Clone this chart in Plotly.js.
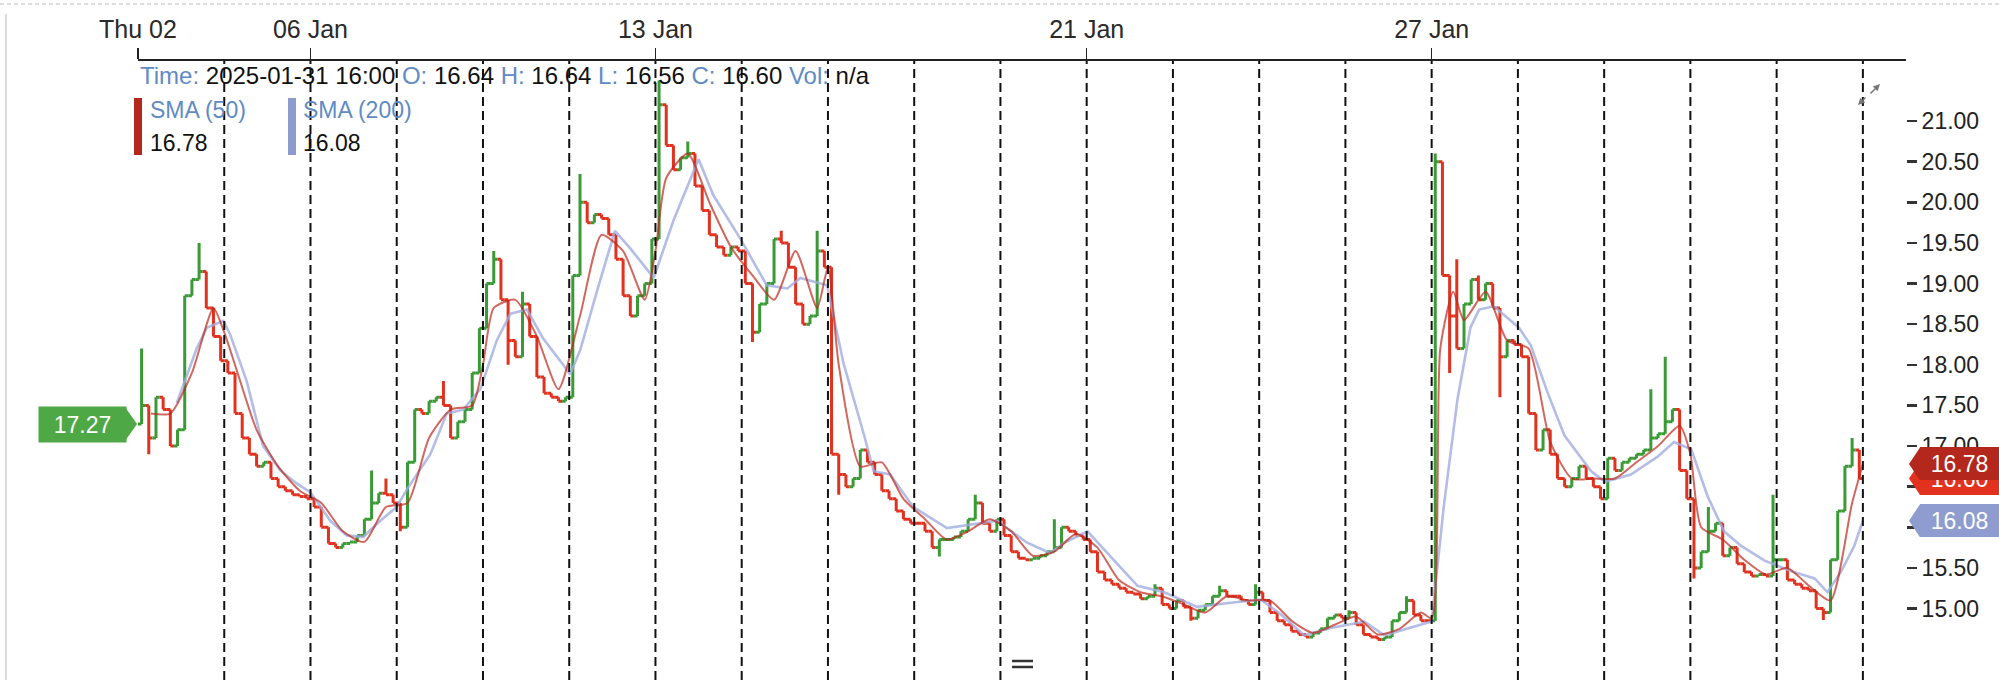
<!DOCTYPE html>
<html>
<head>
<meta charset="utf-8">
<script src="https://cdn.plot.ly/plotly-3.0.1.min.js"></script>
<style>
  html, body { margin: 0; padding: 0; background: #fff; }
  #chart { width: 1999px; height: 680px; }
</style>
</head>
<body>
<div id="chart"></div>
<script>
// trading days shown on the chart (Jan 2025, 09 and 20 Jan closed)
const tradingDays = ['Thu 02','Fri 03','Mon 06','Tue 07','Wed 08','Fri 10','Mon 13','Tue 14','Wed 15','Thu 16',
                     'Fri 17','Tue 21','Wed 22','Thu 23','Fri 24','Mon 27','Tue 28','Wed 29','Thu 30','Fri 31'];
const tickDays = [0, 2, 6, 11, 15];
const tickLabels = ['Thu 02', '06 Jan', '13 Jan', '21 Jan', '27 Jan'];
const priceTicks = [15, 15.5, 16, 16.5, 17, 17.5, 18, 18.5, 19, 19.5, 20, 20.5, 21];

// closes, 12 bars per trading day
const firstOpen = 17.27;
const closesByDay = [
  [17.5, 17.1, 17.6, 17.45, 17.0, 17.2, 18.85, 19.05, 19.15, 18.7, 18.35, 18.05],
  [17.9, 17.4, 17.1, 16.9, 16.75, 16.8, 16.6, 16.5, 16.45, 16.4, 16.38, 16.35],
  [16.25, 16.0, 15.8, 15.75, 15.8, 15.82, 15.9, 16.1, 16.3, 16.42, 16.4, 16.3],
  [16.0, 16.8, 17.45, 17.4, 17.55, 17.6, 17.5, 17.1, 17.3, 17.45, 17.9, 18.45],
  [19.0, 19.3, 18.8, 18.3, 18.1, 18.75, 18.35, 17.85, 17.65, 17.6, 17.55, 17.6],
  [19.1, 20.0, 19.75, 19.85, 19.8, 19.6, 19.3, 18.85, 18.6, 18.85, 19.0, 19.55],
  [21.2, 20.7, 20.4, 20.55, 20.6, 20.2, 19.9, 19.6, 19.45, 19.35, 19.45, 19.4],
  [19.0, 18.4, 18.75, 19.0, 19.55, 19.5, 19.2, 18.75, 18.5, 18.6, 19.4, 19.2],
  [16.9, 16.65, 16.5, 16.6, 16.95, 16.8, 16.65, 16.45, 16.35, 16.2, 16.1, 16.05],
  [16.05, 15.95, 15.75, 15.85, 15.85, 15.88, 15.95, 16.1, 16.3, 16.05, 15.95, 16.1],
  [15.9, 15.7, 15.62, 15.6, 15.62, 15.65, 15.7, 15.75, 16.0, 15.95, 15.9, 15.85],
  [15.7, 15.45, 15.35, 15.3, 15.25, 15.2, 15.18, 15.12, 15.15, 15.25, 15.05, 15.0],
  [15.1, 15.02, 14.88, 14.98, 15.05, 15.15, 15.22, 15.15, 15.15, 15.1, 15.05, 15.2],
  [15.1, 14.95, 14.85, 14.8, 14.72, 14.68, 14.65, 14.7, 14.75, 14.88, 14.92, 14.88],
  [14.95, 14.8, 14.68, 14.65, 14.62, 14.65, 14.85, 14.95, 15.1, 14.92, 14.85, 14.85],
  [20.5, 19.1, 18.6, 18.2, 18.75, 19.05, 18.8, 19.0, 18.7, 18.1, 18.3, 18.25],
  [18.1, 17.4, 16.95, 17.2, 16.9, 16.6, 16.5, 16.6, 16.75, 16.6, 16.5, 16.35],
  [16.85, 16.7, 16.8, 16.85, 16.9, 16.95, 17.1, 17.15, 17.3, 17.45, 16.7, 16.35],
  [15.5, 15.7, 15.95, 16.05, 15.65, 15.75, 15.55, 15.45, 15.4, 15.42, 15.4, 15.6],
  [15.6, 15.35, 15.3, 15.25, 15.22, 15.0, 14.95, 15.6, 16.2, 16.75, 16.95, 16.6]
];

// single-bar spikes and dips seen in the picture (time in trading days)
const spikeTime = [0.035, 0.68, 1.14, 2.69, 2.85, 3.5, 4.12, 4.47, 5.11, 6.03, 6.13, 6.4, 7.45, 7.87, 9.69,
  10.66, 11.8, 12.57, 12.98, 14.08, 14.74, 15.01, 15.32, 15.57, 17.56, 17.7, 18.24, 18.97, 19.9];
const spikeHigh = [18.2, 19.5, 17.7, 16.7, 16.6, 17.8, 19.4, 18.9, 20.35, 21.5, 20.97, 20.75, 19.65, 19.65, 16.4,
  16.1, 15.3, 15.28, 15.3, 14.98, 15.15, 20.6, 19.3, 19.1, 17.7, 18.1, 16.25, 16.4, 17.1];
const dipTime = [0.1, 3.04, 3.62, 4.32, 5.67, 7.12, 8.16, 9.25, 12.19, 15.21, 15.78, 18.06, 19.51];
const dipLow = [16.9, 15.95, 17.1, 18.0, 18.6, 18.28, 16.4, 15.64, 14.85, 17.9, 17.6, 15.37, 14.86];

// SMA (50), time in trading days from Thu 02
const sma50Time = [0.15, 0.375, 0.625, 0.875, 1.0, 1.125, 1.375, 1.625, 1.875, 2.125, 2.375, 2.625, 2.875,
  3.125, 3.375, 3.625, 3.875, 4.0, 4.125, 4.375, 4.625, 4.875, 5.125, 5.375, 5.625, 5.875, 6.0, 6.125, 6.375,
  6.625, 6.875, 7.125, 7.375, 7.625, 7.875, 8.0, 8.125, 8.375, 8.625, 8.875, 9.125, 9.375, 9.625, 9.875,
  10.125, 10.375, 10.625, 10.875, 11.125, 11.375, 11.625, 11.875, 12.125, 12.375, 12.625, 12.875, 13.125,
  13.375, 13.625, 13.875, 14.125, 14.375, 14.625, 14.875, 15.0, 15.1, 15.25, 15.375, 15.625, 15.875, 16.125,
  16.375, 16.625, 16.875, 17.125, 17.375, 17.625, 17.875, 18.0, 18.125, 18.375, 18.625, 18.875, 19.125,
  19.375, 19.625, 19.875, 20.0];
const sma50 = [17.4, 17.4, 17.9, 18.7, 18.4, 18.0, 17.2, 16.75, 16.45, 16.3, 15.95, 15.82, 16.25, 16.3, 17.1,
  17.45, 17.5, 18.0, 18.7, 18.8, 18.35, 17.7, 18.6, 19.6, 19.4, 18.8, 19.4, 20.3, 20.6, 20.0, 19.45, 19.1, 18.8,
  19.4, 18.7, 19.2, 18.0, 16.75, 16.8, 16.35, 16.1, 15.85, 15.95, 16.1, 15.95, 15.65, 15.7, 15.92, 15.75, 15.35,
  15.2, 15.15, 15.05, 14.95, 15.15, 15.1, 15.1, 14.85, 14.7, 14.8, 14.9, 14.68, 14.75, 14.95, 14.88, 18.2, 18.9,
  18.55, 18.9, 18.3, 18.2, 17.05, 16.6, 16.6, 16.6, 16.8, 17.0, 17.25, 16.9, 16.0, 15.85, 15.6, 15.42, 15.5,
  15.28, 15.1, 16.3, 16.78];

// SMA (200)
const sma200Time = [0.45, 0.68, 0.8, 0.99, 1.07, 1.26, 1.45, 1.65, 1.84, 2.0, 2.23, 2.42, 2.61, 2.81, 3.0, 3.12,
  3.39, 3.58, 3.77, 3.97, 4.16, 4.32, 4.51, 4.7, 4.93, 5.01, 5.13, 5.32, 5.53, 5.71, 5.98, 6.21, 6.5, 6.67, 6.98,
  7.29, 7.53, 7.68, 7.99, 8.18, 8.42, 8.53, 8.72, 8.99, 9.38, 9.96, 10.31, 10.58, 10.74, 11.01, 11.32, 11.59,
  11.9, 12.28, 12.67, 13.02, 13.25, 13.52, 13.83, 14.22, 14.45, 15.0, 15.14, 15.3, 15.45, 15.55, 15.72, 16.01,
  16.15, 16.34, 16.54, 16.85, 17.01, 17.31, 17.62, 17.81, 18.01, 18.2, 18.39, 18.59, 18.86, 19.17, 19.44,
  19.59, 19.75, 19.9, 20.0];
const sma200 = [17.53, 18.2, 18.46, 18.54, 18.37, 17.8, 17.0, 16.7, 16.54, 16.43, 16.08, 15.9, 15.88, 16.08,
  16.25, 16.47, 16.9, 17.4, 17.45, 17.7, 18.3, 18.63, 18.68, 18.32, 18.0, 17.88, 18.19, 18.9, 19.65, 19.43,
  19.07, 19.78, 20.53, 20.09, 19.56, 18.98, 18.94, 19.07, 18.98, 18.02, 17.13, 16.69, 16.65, 16.25, 15.99,
  16.08, 15.81, 15.68, 15.81, 15.95, 15.59, 15.28, 15.2, 15.02, 15.07, 15.11, 14.93, 14.67, 14.76, 14.84,
  14.67, 14.84, 16.25, 17.58, 18.46, 18.68, 18.72, 18.46, 18.24, 17.67, 17.13, 16.69, 16.56, 16.65, 16.87,
  17.05, 16.96, 16.38, 15.95, 15.77, 15.59, 15.46, 15.37, 15.2, 15.46, 15.77, 16.08];

// last bar
const lastBar = {time: '2025-01-31 16:00', o: '16.64', h: '16.64', l: '16.56', c: '16.60'};
const lastClose = 16.60;
const sma50Last = 16.78;
const sma200Last = 16.08;

const barsPerDay = 12;
const W = 1999, H = 680;
const L = 138, R = 93, T = 61, B = 0;
const plotW = W - L - R, plotH = H - T - B;
function px(x) { return (x - L) / plotW; }
function py(y) { return (H - B - y) / plotH; }

let x = [], open = [], close = [], high = [], low = [];
let prev = firstOpen;
closesByDay.forEach(function (dayCloses, k) {
  dayCloses.forEach(function (c, i) {
    x.push(k + (i + 0.5) / barsPerDay);
    open.push(prev);
    close.push(c);
    high.push(Math.max(prev, c));
    low.push(Math.min(prev, c));
    prev = c;
  });
});
function barAt(t) { return Math.min(x.length - 1, Math.max(0, Math.floor(t * barsPerDay))); }
spikeTime.forEach(function (t, j) { const b = barAt(t); high[b] = Math.max(high[b], spikeHigh[j]); });
dipTime.forEach(function (t, j) { const b = barAt(t); low[b] = Math.min(low[b], dipLow[j]); });

const green = '#3a9a35';
const red = '#e0321f';
const labelBlue = '#5f8bc4';

// bars as ohlc: the open/close ticks join up into one jagged line
const bars = {
  type: 'ohlc',
  x: x, open: open, high: high, low: low, close: close,
  tickwidth: 0.5,
  increasing: {line: {color: green, width: 3}},
  decreasing: {line: {color: red, width: 3}},
  hoverinfo: 'skip'
};

const smaSlow = {
  type: 'scatter', mode: 'lines',
  x: sma200Time, y: sma200,
  line: {color: 'rgba(160,172,222,0.8)', width: 2.6},
  hoverinfo: 'skip'
};

const smaFast = {
  type: 'scatter', mode: 'lines',
  x: sma50Time, y: sma50,
  line: {color: 'rgba(190,40,28,0.7)', width: 2, shape: 'spline', smoothing: 0.6},
  hoverinfo: 'skip'
};

const shapes = [];
// session separators
for (let k = 1; k <= tradingDays.length; k++) {
  shapes.push({type: 'line', xref: 'x', yref: 'paper', x0: k, x1: k, y0: 0, y1: 1,
    line: {color: '#111', width: 2, dash: '9px,5px'}, layer: 'above'});
}
// frame of the widget
shapes.push({type: 'line', xref: 'paper', yref: 'paper', x0: px(0), x1: px(W), y0: py(4), y1: py(4),
  line: {color: '#bbb', width: 1, dash: '4px,3px'}});
shapes.push({type: 'line', xref: 'paper', yref: 'paper', x0: px(6), x1: px(6), y0: py(H), y1: py(14),
  line: {color: '#d0d0d0', width: 1.5}});
// legend swatches
shapes.push({type: 'rect', xref: 'paper', yref: 'paper', x0: px(134), x1: px(142), y0: py(155), y1: py(98),
  fillcolor: '#b3271c', line: {width: 0}});
shapes.push({type: 'rect', xref: 'paper', yref: 'paper', x0: px(288), x1: px(296), y0: py(155), y1: py(98),
  fillcolor: '#8e9bcd', line: {width: 0}});
// splitter handle
[661, 667].forEach(function (yy) {
  shapes.push({type: 'line', xref: 'paper', yref: 'paper', x0: px(1012), x1: px(1033), y0: py(yy), y1: py(yy),
    line: {color: '#333', width: 2.5}});
});

const annotations = [];

// price tags: tip triangle + body
function rightTag(value, color, text) {
  shapes.push({type: 'path', xref: 'paper', yref: 'y', xsizemode: 'pixel', ysizemode: 'pixel',
    xanchor: px(1920), yanchor: value, path: 'M0,16.5 L-11,0 L0,-16.5 Z',
    fillcolor: color, line: {width: 0}});
  annotations.push({xref: 'paper', yref: 'y', x: px(1920), y: value, xanchor: 'left', yanchor: 'middle',
    text: text, showarrow: false, bgcolor: color, width: 79, height: 33, borderpad: 0, borderwidth: 0,
    align: 'center', valign: 'middle', font: {color: '#fff', size: 23}});
}
rightTag(lastClose, '#e3311f', lastClose.toFixed(2));
rightTag(sma50Last, '#b3271c', sma50Last.toFixed(2));
rightTag(sma200Last, '#8e9ccf', sma200Last.toFixed(2));

shapes.push({type: 'path', xref: 'paper', yref: 'y', xsizemode: 'pixel', ysizemode: 'pixel',
  xanchor: px(125), yanchor: firstOpen, path: 'M0,17 L12,0 L0,-17 Z', fillcolor: '#4ea845', line: {width: 0}});
annotations.push({xref: 'paper', yref: 'y', x: px(38), y: firstOpen, xanchor: 'left', yanchor: 'middle',
  text: firstOpen.toFixed(2), showarrow: false, bgcolor: '#4ea845', width: 87, height: 35, borderpad: 0,
  align: 'center', valign: 'middle', font: {color: '#fff', size: 23}});

// header line
function lbl(t) { return '<span style="color:' + labelBlue + '">' + t + '</span>'; }
annotations.push({xref: 'paper', yref: 'paper', x: px(138), y: py(75), xanchor: 'left', yanchor: 'middle',
  showarrow: false, font: {size: 24, color: '#111'},
  text: lbl('Time:') + ' ' + lastBar.time + ' ' + lbl('O:') + ' ' + lastBar.o + ' ' + lbl('H:') + ' ' + lastBar.h +
        ' ' + lbl('L:') + ' ' + lastBar.l + ' ' + lbl('C:') + ' ' + lastBar.c + ' ' + lbl('Vol:') + ' n/a'});

// indicator legend
[[148, 'SMA (50)', sma50Last], [301, 'SMA (200)', sma200Last]].forEach(function (it) {
  annotations.push({xref: 'paper', yref: 'paper', x: px(it[0]), y: py(110), xanchor: 'left', yanchor: 'middle',
    showarrow: false, text: it[1], font: {size: 23, color: labelBlue}});
  annotations.push({xref: 'paper', yref: 'paper', x: px(it[0]), y: py(143), xanchor: 'left', yanchor: 'middle',
    showarrow: false, text: it[2].toFixed(2), font: {size: 23, color: '#111'}});
});

// expand icon
annotations.push({xref: 'paper', yref: 'paper', x: px(1880), y: py(84), ax: -11, ay: 11, text: '',
  showarrow: true, arrowhead: 2, arrowsize: 0.9, arrowwidth: 1.5, arrowcolor: '#777'});
annotations.push({xref: 'paper', yref: 'paper', x: px(1858), y: py(105), ax: 9, ay: -9, text: '',
  showarrow: true, arrowhead: 2, arrowsize: 0.9, arrowwidth: 1.5, arrowcolor: '#777'});

const layout = {
  width: W, height: H,
  margin: {l: L, r: R, t: T, b: B, pad: 0},
  paper_bgcolor: '#fff', plot_bgcolor: '#fff',
  showlegend: false,
  font: {family: 'Liberation Sans, Arial, sans-serif', color: '#222'},
  xaxis: {
    range: [0, 20.5], side: 'top', showgrid: false, zeroline: false,
    showline: true, linecolor: '#222', linewidth: 2,
    ticks: 'outside', ticklen: 11, tickwidth: 1.5, tickcolor: '#222',
    tickvals: tickDays, ticktext: tickLabels,
    tickfont: {size: 25, color: '#2a2a2a'},
    rangeslider: {visible: false}, fixedrange: true
  },
  yaxis: {
    range: [14.12, 21.74], side: 'right', showgrid: false, zeroline: false, showline: false,
    ticks: 'outside', ticklen: 10, tickwidth: 2.5, tickcolor: '#333',
    tickvals: priceTicks, ticktext: priceTicks.map(function (v) { return v.toFixed(2); }),
    tickfont: {size: 23, color: '#222'}, fixedrange: true
  },
  shapes: shapes,
  annotations: annotations
};

Plotly.newPlot('chart', [smaSlow, bars, smaFast], layout, {displayModeBar: false, staticPlot: true});
</script>
</body>
</html>
